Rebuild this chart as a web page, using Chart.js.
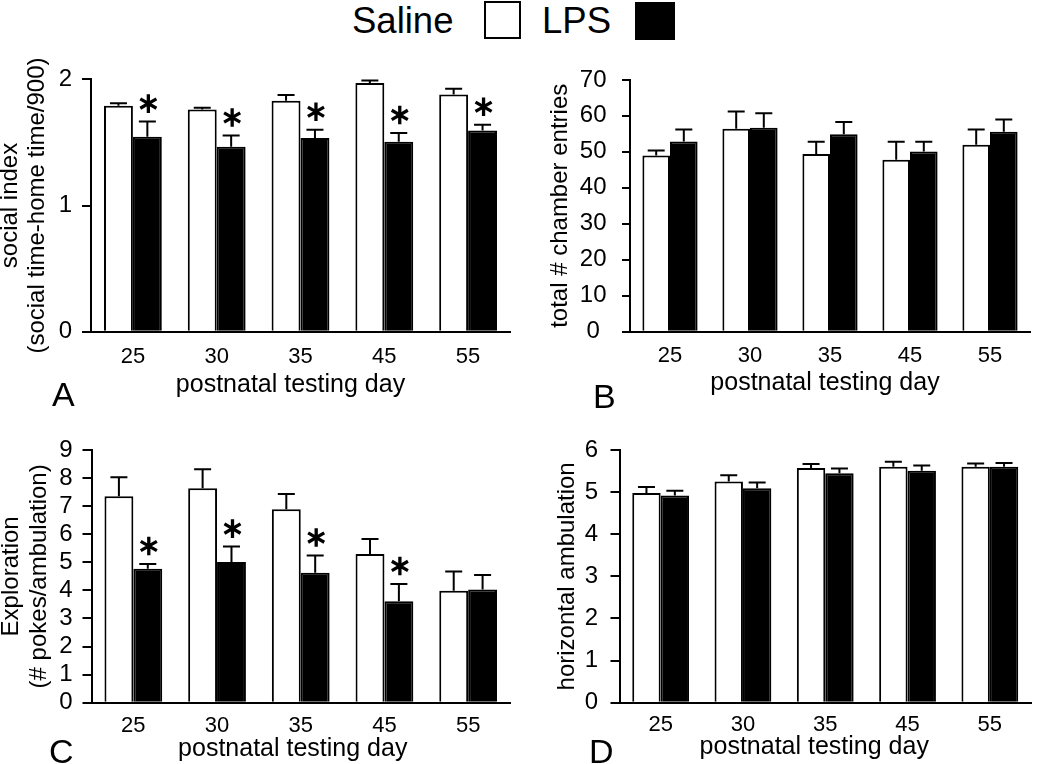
<!DOCTYPE html>
<html>
<head>
<meta charset="utf-8">
<title>Saline vs LPS</title>
<script src="https://cdn.jsdelivr.net/npm/chart.js@4.4.1/dist/chart.umd.min.js"></script>
<style>
  body { margin: 0; background: #fff; }
  #page { position: relative; width: 1050px; height: 764px; background: #fff; overflow: hidden;
          font-family: "Liberation Sans", Arial, sans-serif; color: #000; }
  #page canvas { position: absolute; }
  .txt { position: absolute; line-height: 1; white-space: nowrap; }
  .box { position: absolute; box-sizing: border-box; border: 2px solid #000; }
</style>
</head>
<body>
<div id="page">
  <canvas id="chartA"></canvas>
  <canvas id="chartB"></canvas>
  <canvas id="chartC"></canvas>
  <canvas id="chartD"></canvas>

  <!-- legend -->
  <span class="txt" style="left:352px;top:2.5px;font-size:36.5px">Saline</span>
  <div class="box" style="left:484px;top:1px;width:37px;height:38px;background:#fff"></div>
  <span class="txt" style="left:542px;top:2.5px;font-size:36.5px">LPS</span>
  <div class="box" style="left:635px;top:2px;width:40px;height:38px;background:#000"></div>

  <!-- panel letters -->
  <span class="txt" style="left:52px;top:376.5px;font-size:34px">A</span>
  <span class="txt" style="left:593px;top:378.5px;font-size:34px">B</span>
  <span class="txt" style="left:49px;top:733.5px;font-size:34px">C</span>
  <span class="txt" style="left:589px;top:733.5px;font-size:34px">D</span>
</div>

<script>
// postnatal testing days
const days = ['25', '30', '35', '45', '55'];

// A - social index
const salineSocial = [1.79, 1.76, 1.83, 1.97, 1.88];
const salineSocialSem = [0.02, 0.015, 0.045, 0.02, 0.045];
const lpsSocial = [1.545, 1.465, 1.535, 1.505, 1.595];
const lpsSocialSem = [0.12, 0.09, 0.065, 0.07, 0.045];
const sigSocial = [true, true, true, true, true];

// B - total chamber entries
const salineEntries = [49.0, 56.4, 49.4, 47.8, 52.0];
const salineEntriesSem = [1.4, 4.8, 3.4, 5.0, 4.2];
const lpsEntries = [52.9, 56.7, 54.9, 50.1, 55.6];
const lpsEntriesSem = [3.3, 4.0, 3.4, 2.7, 3.4];
const sigEntries = [false, false, false, false, false];

// C - exploration
const salineExplore = [7.35, 7.64, 6.89, 5.30, 3.99];
const salineExploreSem = [0.68, 0.67, 0.54, 0.53, 0.68];
const lpsExplore = [4.77, 5.01, 4.63, 3.61, 4.03];
const lpsExploreSem = [0.17, 0.55, 0.61, 0.62, 0.52];
const sigExplore = [true, true, true, true, false];

// D - horizontal ambulation
const salineAmb = [4.98, 5.25, 5.57, 5.60, 5.60];
const salineAmbSem = [0.14, 0.15, 0.10, 0.12, 0.08];
const lpsAmb = [4.92, 5.09, 5.45, 5.51, 5.60];
const lpsAmbSem = [0.11, 0.14, 0.11, 0.12, 0.09];
const sigAmb = [false, false, false, false, false];

const FONT = '"Liberation Sans", Arial, sans-serif';
Chart.defaults.font.family = FONT;
Chart.defaults.color = '#000';

// SEM bars (upper only) and significance stars
const errorBars = {
    id: 'errorBars',
    afterDatasetsDraw(chart, args, opts) {
        const ctx = chart.ctx;
        const y = chart.scales.y;
        ctx.save();
        ctx.strokeStyle = '#000';
        ctx.lineWidth = 2;
        chart.data.datasets.forEach((ds, i) => {
            chart.getDatasetMeta(i).data.forEach((bar, j) => {
                const top = y.getPixelForValue(ds.data[j] + ds.sem[j]);
                ctx.beginPath();
                ctx.moveTo(bar.x, bar.y);
                ctx.lineTo(bar.x, top);
                ctx.moveTo(bar.x - 8.5, top);
                ctx.lineTo(bar.x + 8.5, top);
                ctx.stroke();
            });
        });

        // asterisk over the LPS bar
        const lps = chart.data.datasets[1];
        ctx.lineWidth = 3.3;
        chart.getDatasetMeta(1).data.forEach((bar, j) => {
            if (!opts.sig[j]) return;
            const cx = bar.x + 1;
            const cy = y.getPixelForValue(lps.data[j] + lps.sem[j]) - 18;
            ctx.beginPath();
            [90, 30, 150].forEach(a => {
                const r = a * Math.PI / 180;
                ctx.moveTo(cx - 9.3 * Math.cos(r), cy - 9.3 * Math.sin(r));
                ctx.lineTo(cx + 9.3 * Math.cos(r), cy + 9.3 * Math.sin(r));
            });
            ctx.stroke();
        });
        ctx.restore();
    }
};

// x axis title, sits a little left of the plot centre like the original
const xTitle = {
    id: 'xTitle',
    afterDraw(chart, args, opts) {
        const { ctx, chartArea } = chart;
        ctx.save();
        ctx.font = '25px ' + FONT;
        ctx.fillStyle = '#000';
        ctx.textAlign = 'center';
        ctx.textBaseline = 'alphabetic';
        ctx.fillText(opts.text, (chartArea.left + chartArea.right) / 2 + opts.shift, opts.baseline);
        ctx.restore();
    }
};

function panel(id, c) {
    const cv = document.getElementById(id);
    const [bx, by, bw, bh] = c.box;
    const [al, at, ar, ab] = c.area;
    cv.width = bw;
    cv.height = bh;
    cv.style.left = bx + 'px';
    cv.style.top = by + 'px';

    new Chart(cv, {
        type: 'bar',
        data: {
            labels: days,
            datasets: [
                { label: 'Saline', data: c.saline, sem: c.salineSem,
                  backgroundColor: '#fff', borderColor: '#000', borderWidth: 2 },
                { label: 'LPS', data: c.lps, sem: c.lpsSem,
                  backgroundColor: '#000', borderColor: '#000', borderWidth: 2 }
            ]
        },
        options: {
            responsive: false,
            animation: false,
            devicePixelRatio: 1,
            layout: { padding: { left: 0, top: at - by, right: bx + bw - ar, bottom: 0 } },
            datasets: { bar: { categoryPercentage: 0.69, barPercentage: 1 } },
            plugins: {
                legend: { display: false },
                tooltip: { enabled: false },
                errorBars: { sig: c.sig },
                xTitle: { text: 'postnatal testing day', shift: c.xTitleShift, baseline: c.xTitleBase - by }
            },
            scales: {
                x: {
                    grid: { display: false, drawTicks: false },
                    border: { display: true, color: '#000', width: 2 },
                    ticks: { font: { size: 22 }, color: '#000', padding: c.xPad },
                    afterFit: s => { s.height = by + bh - ab; }
                },
                y: {
                    min: 0,
                    max: c.max,
                    grid: { drawOnChartArea: false, drawTicks: true, tickLength: c.tick || 9,
                            color: '#000', lineWidth: 2 },
                    border: { display: true, color: '#000', width: 2 },
                    ticks: { stepSize: c.step, autoSkip: false, font: { size: 24 }, color: '#000',
                             padding: c.yPad, crossAlign: c.cross || 'near' },
                    title: {
                        display: true, text: c.yTitle, color: '#000',
                        font: { size: 24, lineHeight: c.yLh / 24 },
                        padding: { top: c.yTitleMid - bx - c.yLh / 2, bottom: 0 }
                    },
                    afterFit: s => { s.width = al - bx; }
                }
            }
        },
        plugins: [errorBars, xTitle]
    });
}

panel('chartA', {
    box: [0, 50, 525, 370], area: [91, 79.3, 510, 331.7],
    saline: salineSocial, salineSem: salineSocialSem, lps: lpsSocial, lpsSem: lpsSocialSem, sig: sigSocial,
    max: 2, step: 1, xPad: 12, xTitleShift: -10, xTitleBase: 392, yPad: 10,
    yTitle: ['social index', '(social time-home time/900)'], yTitleMid: 10, yLh: 27
});

panel('chartB', {
    box: [525, 50, 525, 370], area: [630, 79.3, 1030, 331.7],
    saline: salineEntries, salineSem: salineEntriesSem, lps: lpsEntries, lpsSem: lpsEntriesSem, sig: sigEntries,
    max: 70, step: 10, xPad: 11.5, xTitleShift: -5, xTitleBase: 389.5, yPad: 15.5, cross: 'center', tick: 8,
    yTitle: 'total # chamber entries', yTitleMid: 560, yLh: 27
});

panel('chartC', {
    box: [0, 420, 525, 344], area: [91.5, 450, 510, 702.7],
    saline: salineExplore, salineSem: salineExploreSem, lps: lpsExplore, lpsSem: lpsExploreSem, sig: sigExplore,
    max: 9, step: 1, xPad: 10, xTitleShift: -8, xTitleBase: 755.5, yPad: 10,
    yTitle: ['Exploration', '(# pokes/ambulation)'], yTitleMid: 11, yLh: 28
});

panel('chartD', {
    box: [525, 420, 525, 344], area: [619.5, 450, 1031, 702.7],
    saline: salineAmb, salineSem: salineAmbSem, lps: lpsAmb, lpsSem: lpsAmbSem, sig: sigAmb,
    max: 6, step: 1, xPad: 9, xTitleShift: -11, xTitleBase: 754, yPad: 12.5,
    yTitle: 'horizontal ambulation', yTitleMid: 567, yLh: 27
});
</script>
</body>
</html>
